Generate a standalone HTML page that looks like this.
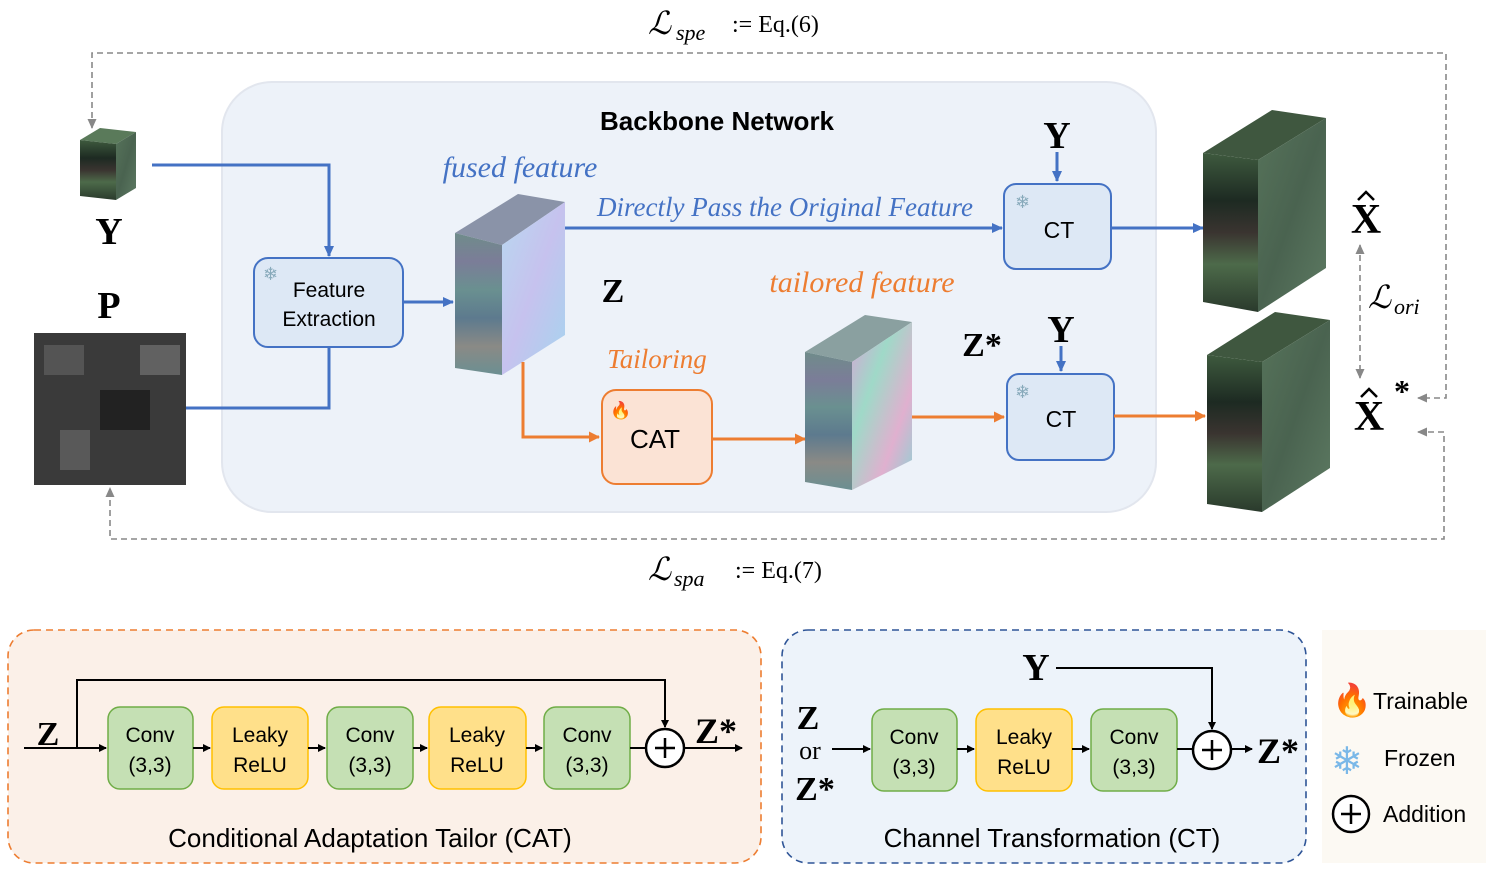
<!DOCTYPE html>
<html><head><meta charset="utf-8"><style>
html,body{margin:0;padding:0;background:#fff;width:1494px;height:872px;overflow:hidden}
svg{display:block}
.sans{font-family:"Liberation Sans",sans-serif}
.serif{font-family:"Liberation Serif",serif}
</style></head><body>
<svg width="1494" height="872" viewBox="0 0 1494 872" xmlns="http://www.w3.org/2000/svg">
<defs>
<marker id="ab" markerWidth="11" markerHeight="10" refX="10" refY="5" orient="auto" markerUnits="userSpaceOnUse"><path d="M0,0 L11,5 L0,10 z" fill="#4472c4"/></marker>
<marker id="ao" markerWidth="11" markerHeight="11" refX="10" refY="5.5" orient="auto" markerUnits="userSpaceOnUse"><path d="M0,0 L11,5.5 L0,11 z" fill="#ed7d31"/></marker>
<marker id="ak" markerWidth="8" markerHeight="8" refX="7" refY="4" orient="auto" markerUnits="userSpaceOnUse"><path d="M0,0 L8,4 L0,8 z" fill="#000"/></marker>
<marker id="ag" markerWidth="10" markerHeight="9" refX="9" refY="4.5" orient="auto-start-reverse" markerUnits="userSpaceOnUse"><path d="M0,0 L10,4.5 L0,9 z" fill="#888"/></marker>
<linearGradient id="stripe" x1="0" y1="0" x2="0" y2="1">
<stop offset="0" stop-color="#6f8c8a"/><stop offset="0.2" stop-color="#7b7d98"/><stop offset="0.4" stop-color="#6a9090"/><stop offset="0.6" stop-color="#5d7a8e"/><stop offset="0.8" stop-color="#8a8a86"/><stop offset="1" stop-color="#6b8f92"/></linearGradient>
<linearGradient id="noise1" x1="0" y1="0" x2="1" y2="1"><stop offset="0" stop-color="#b8d8f0"/><stop offset="0.5" stop-color="#c6c2ee"/><stop offset="1" stop-color="#a6d4ef"/></linearGradient>
<linearGradient id="noise2" x1="0" y1="0" x2="1" y2="1"><stop offset="0" stop-color="#d7a5d6"/><stop offset="0.35" stop-color="#9fd9c8"/><stop offset="0.7" stop-color="#e0b0cf"/><stop offset="1" stop-color="#8fd1d4"/></linearGradient>
<linearGradient id="gstripe" x1="0" y1="0" x2="0" y2="1"><stop offset="0" stop-color="#3e5a3e"/><stop offset="0.3" stop-color="#1d2a22"/><stop offset="0.5" stop-color="#3a3430"/><stop offset="0.7" stop-color="#4d6a4a"/><stop offset="1" stop-color="#2a3a2c"/></linearGradient>
<linearGradient id="gface" x1="0" y1="0" x2="1" y2="1"><stop offset="0" stop-color="#56735a"/><stop offset="0.5" stop-color="#4a6350"/><stop offset="1" stop-color="#5d7a62"/></linearGradient>
</defs>

<!-- dashed loss loops -->
<path d="M92,128 V53 H1446 V398 H1418" fill="none" stroke="#888" stroke-width="1.6" stroke-dasharray="6,4" marker-start="url(#ag)" marker-end="url(#ag)"/>
<path d="M1418,432 H1444 V539 H110 V488" fill="none" stroke="#888" stroke-width="1.6" stroke-dasharray="6,4" marker-start="url(#ag)" marker-end="url(#ag)"/>
<text x="648" y="34" class="serif" font-size="32" font-style="italic">ℒ</text><text x="676" y="40" class="serif" font-size="22" font-style="italic">spe</text><text x="732" y="32" class="serif" font-size="24">:= Eq.(6)</text>
<text x="648" y="580" class="serif" font-size="32" font-style="italic">ℒ</text><text x="674" y="586" class="serif" font-size="22" font-style="italic">spa</text><text x="735" y="578" class="serif" font-size="24">:= Eq.(7)</text>

<!-- backbone -->
<rect x="222" y="82" width="934" height="430" rx="50" fill="#edf2f9" stroke="#e2e6ee" stroke-width="2"/>
<text x="717" y="130" text-anchor="middle" class="sans" font-size="26" font-weight="bold">Backbone Network</text>

<!-- Y small cube -->
<polygon points="80,140 100,128 136,132 116,144" fill="#5a7a5a"/>
<polygon points="80,140 116,144 116,200 80,196" fill="url(#gstripe)"/>
<polygon points="116,144 136,132 136,188 116,200" fill="url(#gface)"/>
<text x="109" y="244" text-anchor="middle" class="serif" font-size="38" font-weight="bold">Y</text>
<text x="109" y="318" text-anchor="middle" class="serif" font-size="38" font-weight="bold">P</text>
<rect x="34" y="333" width="152" height="152" fill="#3a3a3a"/>
<rect x="44" y="345" width="40" height="30" fill="#666" opacity=".6"/><rect x="100" y="390" width="50" height="40" fill="#222"/><rect x="60" y="430" width="30" height="40" fill="#777" opacity=".5"/><rect x="140" y="345" width="40" height="30" fill="#888" opacity=".5"/>

<!-- arrows blue -->
<path d="M152,165 H329 V256" fill="none" stroke="#4472c4" stroke-width="3" marker-end="url(#ab)"/>
<path d="M186,408 H329 V322" fill="none" stroke="#4472c4" stroke-width="3" marker-end="url(#ab)"/>
<rect x="254" y="258" width="149" height="89" rx="14" fill="#dde8f5" stroke="#4472c4" stroke-width="2"/>
<text x="263" y="280" font-size="18" fill="#8ab">❄</text>
<text x="329" y="297" text-anchor="middle" class="sans" font-size="21">Feature</text>
<text x="329" y="326" text-anchor="middle" class="sans" font-size="21">Extraction</text>
<path d="M403,302 H453" fill="none" stroke="#4472c4" stroke-width="3" marker-end="url(#ab)"/>

<!-- fused cube -->
<polygon points="455,233 518,194 565,202 502,245" fill="#8a93a8"/>
<polygon points="455,233 502,245 502,375 455,368" fill="url(#stripe)"/>
<polygon points="502,245 565,202 565,335 502,375" fill="url(#noise1)"/>
<text x="520" y="177" text-anchor="middle" class="serif" font-size="30" font-style="italic" fill="#4472c4">fused feature</text>
<text x="613" y="302" text-anchor="middle" class="serif" font-size="34" font-weight="bold">Z</text>
<text x="785" y="216" text-anchor="middle" class="serif" font-size="27" font-style="italic" fill="#4472c4">Directly Pass the Original Feature</text>
<path d="M565,228 H1002" fill="none" stroke="#4472c4" stroke-width="3" marker-end="url(#ab)"/>

<!-- CT top -->
<text x="1057" y="148" text-anchor="middle" class="serif" font-size="38" font-weight="bold">Y</text>
<path d="M1057,152 V181" stroke="#4472c4" stroke-width="3" marker-end="url(#ab)"/>
<rect x="1004" y="184" width="107" height="85" rx="12" fill="#dde8f5" stroke="#4472c4" stroke-width="2"/>
<text x="1015" y="208" font-size="18" fill="#8ab">❄</text>
<text x="1059" y="238" text-anchor="middle" class="sans" font-size="23">CT</text>
<path d="M1111,228 H1203" stroke="#4472c4" stroke-width="3" marker-end="url(#ab)"/>

<!-- orange path -->
<path d="M523,362 V437 H599" fill="none" stroke="#ed7d31" stroke-width="3" marker-end="url(#ao)"/>
<text x="657" y="368" text-anchor="middle" class="serif" font-size="27" font-style="italic" fill="#ed7d31">Tailoring</text>
<rect x="602" y="390" width="110" height="94" rx="14" fill="#fbe3d5" stroke="#ed7d31" stroke-width="2"/>
<text x="610" y="416" font-size="17">🔥</text>
<text x="655" y="448" text-anchor="middle" class="sans" font-size="26">CAT</text>
<path d="M712,439 H805" stroke="#ed7d31" stroke-width="3" marker-end="url(#ao)"/>
<text x="862" y="292" text-anchor="middle" class="serif" font-size="30" font-style="italic" fill="#ed7d31">tailored feature</text>

<!-- tailored cube -->
<polygon points="805,352 865,315 912,322 852,362" fill="#8aa0a0"/>
<polygon points="805,352 852,362 852,490 805,482" fill="url(#stripe)"/>
<polygon points="852,362 912,322 912,460 852,490" fill="url(#noise2)"/>
<path d="M912,417 H1004" stroke="#ed7d31" stroke-width="3" marker-end="url(#ao)"/>
<text x="982" y="356" text-anchor="middle" class="serif" font-size="34" font-weight="bold">Z*</text>

<!-- CT bottom -->
<text x="1061" y="342" text-anchor="middle" class="serif" font-size="38" font-weight="bold">Y</text>
<path d="M1061,346 V371" stroke="#4472c4" stroke-width="3" marker-end="url(#ab)"/>
<rect x="1007" y="374" width="107" height="86" rx="12" fill="#dde8f5" stroke="#4472c4" stroke-width="2"/>
<text x="1015" y="398" font-size="18" fill="#8ab">❄</text>
<text x="1061" y="427" text-anchor="middle" class="sans" font-size="23">CT</text>
<path d="M1114,416 H1205" stroke="#ed7d31" stroke-width="3" marker-end="url(#ao)"/>

<!-- output cubes -->
<polygon points="1203,153 1272,110 1326,118 1258,160" fill="#3f573f"/>
<polygon points="1203,153 1258,160 1258,312 1203,302" fill="url(#gstripe)"/>
<polygon points="1258,160 1326,118 1326,268 1258,312" fill="url(#gface)"/>
<polygon points="1207,355 1275,312 1330,320 1262,362" fill="#3f573f"/>
<polygon points="1207,355 1262,362 1262,512 1207,504" fill="url(#gstripe)"/>
<polygon points="1262,362 1330,320 1330,468 1262,512" fill="url(#gface)"/>
<text x="1366" y="233" text-anchor="middle" class="serif" font-size="42" font-weight="bold">X</text>
<path d="M1358,200 L1366,192 L1374,200" fill="none" stroke="#000" stroke-width="2.5"/>
<text x="1369" y="430" text-anchor="middle" class="serif" font-size="42" font-weight="bold">X</text>
<path d="M1361,397 L1369,389 L1377,397" fill="none" stroke="#000" stroke-width="2.5"/>
<text x="1394" y="402" class="serif" font-size="32" font-weight="bold">*</text>
<path d="M1360,245 V378" stroke="#888" stroke-width="1.6" stroke-dasharray="6,4" marker-start="url(#ag)" marker-end="url(#ag)"/>
<text x="1368" y="308" class="serif" font-size="32" font-style="italic">ℒ</text><text x="1394" y="314" class="serif" font-size="22" font-style="italic">ori</text>

<!-- CAT detail -->
<rect x="8" y="630" width="753" height="233" rx="26" fill="#fbf0e8" stroke="#ed7d31" stroke-width="1.6" stroke-dasharray="7,5"/>
<text x="48" y="745" text-anchor="middle" class="serif" font-size="34" font-weight="bold">Z</text>
<path d="M24,748 H106" stroke="#000" stroke-width="2" marker-end="url(#ak)"/>
<path d="M77,748 V680 H665 V727" fill="none" stroke="#000" stroke-width="2" marker-end="url(#ak)"/>
<g class="sans" font-size="21" text-anchor="middle">
<rect x="108" y="707" width="85" height="82" rx="12" fill="#c5e0b4" stroke="#70ad47" stroke-width="1.5"/><text x="150" y="742">Conv</text><text x="150" y="772">(3,3)</text>
<rect x="212" y="707" width="96" height="82" rx="12" fill="#ffe08a" stroke="#ffc000" stroke-width="1.5"/><text x="260" y="742">Leaky</text><text x="260" y="772">ReLU</text>
<rect x="327" y="707" width="86" height="82" rx="12" fill="#c5e0b4" stroke="#70ad47" stroke-width="1.5"/><text x="370" y="742">Conv</text><text x="370" y="772">(3,3)</text>
<rect x="429" y="707" width="97" height="82" rx="12" fill="#ffe08a" stroke="#ffc000" stroke-width="1.5"/><text x="477" y="742">Leaky</text><text x="477" y="772">ReLU</text>
<rect x="544" y="707" width="86" height="82" rx="12" fill="#c5e0b4" stroke="#70ad47" stroke-width="1.5"/><text x="587" y="742">Conv</text><text x="587" y="772">(3,3)</text>
</g>
<g stroke="#000" stroke-width="2"><path d="M193,748 H210" marker-end="url(#ak)"/><path d="M308,748 H325" marker-end="url(#ak)"/><path d="M413,748 H427" marker-end="url(#ak)"/><path d="M526,748 H542" marker-end="url(#ak)"/><path d="M630,748 H645"/><path d="M685,748 H742" marker-end="url(#ak)"/></g>
<circle cx="665" cy="748" r="19" fill="#fff" stroke="#000" stroke-width="2.5"/>
<path d="M655,748 H675 M665,738 V758" stroke="#000" stroke-width="2.5"/>
<text x="716" y="743" text-anchor="middle" class="serif" font-size="36" font-weight="bold">Z*</text>
<text x="370" y="847" text-anchor="middle" class="sans" font-size="26">Conditional Adaptation Tailor (CAT)</text>

<!-- CT detail -->
<rect x="782" y="630" width="524" height="233" rx="26" fill="#edf3fa" stroke="#2f5597" stroke-width="1.6" stroke-dasharray="7,5"/>
<text x="808" y="729" text-anchor="middle" class="serif" font-size="34" font-weight="bold">Z</text>
<text x="810" y="759" text-anchor="middle" class="serif" font-size="26">or</text>
<text x="815" y="800" text-anchor="middle" class="serif" font-size="34" font-weight="bold">Z*</text>
<text x="1036" y="680" text-anchor="middle" class="serif" font-size="38" font-weight="bold">Y</text>
<path d="M1056,668 H1212 V729" fill="none" stroke="#000" stroke-width="2" marker-end="url(#ak)"/>
<g class="sans" font-size="21" text-anchor="middle">
<rect x="872" y="709" width="85" height="82" rx="12" fill="#c5e0b4" stroke="#70ad47" stroke-width="1.5"/><text x="914" y="744">Conv</text><text x="914" y="774">(3,3)</text>
<rect x="976" y="709" width="96" height="82" rx="12" fill="#ffe08a" stroke="#ffc000" stroke-width="1.5"/><text x="1024" y="744">Leaky</text><text x="1024" y="774">ReLU</text>
<rect x="1091" y="709" width="86" height="82" rx="12" fill="#c5e0b4" stroke="#70ad47" stroke-width="1.5"/><text x="1134" y="744">Conv</text><text x="1134" y="774">(3,3)</text>
</g>
<g stroke="#000" stroke-width="2"><path d="M832,749 H870" marker-end="url(#ak)"/><path d="M957,749 H974" marker-end="url(#ak)"/><path d="M1072,749 H1089" marker-end="url(#ak)"/><path d="M1177,749 H1192"/><path d="M1232,749 H1252" marker-end="url(#ak)"/></g>
<circle cx="1212" cy="750" r="19" fill="#fff" stroke="#000" stroke-width="2.5"/>
<path d="M1202,750 H1222 M1212,740 V760" stroke="#000" stroke-width="2.5"/>
<text x="1278" y="763" text-anchor="middle" class="serif" font-size="36" font-weight="bold">Z*</text>
<text x="1052" y="847" text-anchor="middle" class="sans" font-size="26">Channel Transformation (CT)</text>

<!-- legend -->
<rect x="1322" y="630" width="164" height="233" fill="#fcf9f3"/>
<text x="1332" y="711" font-size="32">🔥</text>
<text x="1373" y="709" class="sans" font-size="23">Trainable</text>
<text x="1331" y="774" font-size="38" fill="#7ab8e8">❄</text>
<text x="1384" y="766" class="sans" font-size="23">Frozen</text>
<circle cx="1351" cy="814" r="18" fill="#fff" stroke="#000" stroke-width="2.5"/>
<path d="M1341,814 H1361 M1351,804 V824" stroke="#000" stroke-width="2.5"/>
<text x="1383" y="822" class="sans" font-size="23">Addition</text>
</svg>
</body></html>
